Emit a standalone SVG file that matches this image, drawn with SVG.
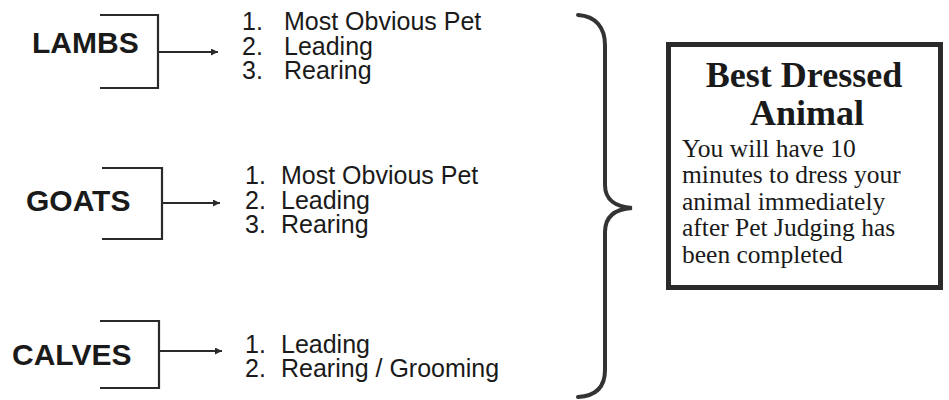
<svg xmlns="http://www.w3.org/2000/svg" width="949" height="400" viewBox="0 0 949 400">
<style>
.lbl{font-family:"Liberation Sans",Arial,sans-serif;font-weight:bold;font-size:30px;fill:#1a1a1a}
.item{font-family:"Liberation Sans",Arial,sans-serif;font-size:25px;fill:#1a1a1a}
.br{fill:none;stroke:#2a2a2a;stroke-width:2.2}
.ar{fill:none;stroke:#2a2a2a;stroke-width:1.8;marker-end:url(#ah)}
.ttl{font-family:"Liberation Serif","Times New Roman",serif;font-weight:bold;font-size:36px;fill:#1a1a1a;text-anchor:middle}
.body{font-family:"Liberation Serif","Times New Roman",serif;font-size:25.5px;fill:#1a1a1a}
</style>
<defs>
<marker id="ah" viewBox="0 0 10 10" refX="10" refY="5" markerWidth="10" markerHeight="7" markerUnits="userSpaceOnUse" orient="auto">
<path d="M0,0 L10,5 L0,10 z" fill="#2a2a2a"/>
</marker>
</defs>
<rect width="949" height="400" fill="#ffffff"/>

<g id="lambs">
<text class="lbl" x="32" y="53">LAMBS</text>
<text class="item" x="242" y="30">1.</text><text class="item" x="284" y="30">Most Obvious Pet</text>
<text class="item" x="242" y="54.5">2.</text><text class="item" x="284" y="54.5">Leading</text>
<text class="item" x="242" y="79">3.</text><text class="item" x="284" y="79">Rearing</text>
</g>

<g id="goats">
<text class="lbl" x="26" y="211">GOATS</text>
<text class="item" x="245" y="184">1.</text><text class="item" x="281" y="184">Most Obvious Pet</text>
<text class="item" x="245" y="208.5">2.</text><text class="item" x="281" y="208.5">Leading</text>
<text class="item" x="245" y="233">3.</text><text class="item" x="281" y="233">Rearing</text>
</g>

<g id="calves">
<text class="lbl" x="12" y="365">CALVES</text>
<text class="item" x="245" y="353">1.</text><text class="item" x="281" y="353">Leading</text>
<text class="item" x="245" y="377">2.</text><text class="item" x="281" y="377">Rearing / Grooming</text>
</g>

<g id="best-dressed">
<rect x="668.5" y="44.5" width="272" height="243" fill="#ffffff" stroke="#2a2a2a" stroke-width="5"/>
<text class="ttl" x="804" y="87">Best Dressed</text>
<text class="ttl" x="807" y="125">Animal</text>
<text class="body" x="682" y="157">You will have 10</text>
<text class="body" x="682" y="183">minutes to dress your</text>
<text class="body" x="682" y="209.5">animal immediately</text>
<text class="body" x="682" y="236">after Pet Judging has</text>
<text class="body" x="682" y="263">been completed</text>
</g>

<g id="connectors">
<path class="br" d="M100,15 H158 V88 H100"/>
<path class="ar" d="M158,52 H218"/>
<path class="br" d="M102,168 H162 V239 H102"/>
<path class="ar" d="M162,203 H220"/>
<path class="br" d="M100,321 H159 V388 H100"/>
<path class="ar" d="M159,351 H222"/>
<path fill="none" stroke="#333" stroke-width="4" stroke-linecap="round" d="M578,15 C596,16 605,28 605,45 V185 C605,200 616,207 632,208 C616,209 605,216 605,232 V370 C605,387 596,396 578,397"/>
</g>
</svg>
